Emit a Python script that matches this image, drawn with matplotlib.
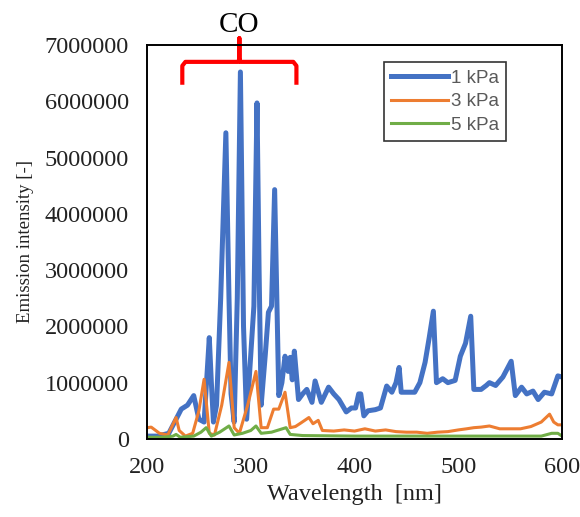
import matplotlib.pyplot as plt

# wavelength [nm] and intensity (x 1e6) for each pressure
wl_1 = [200, 210, 221, 228, 233, 239, 245, 250, 255, 258, 260, 262, 264, 267, 271, 276,
        279, 281, 284, 287, 290, 293, 296, 300, 303, 306, 308, 310, 314, 317, 320, 323,
        327, 330, 333, 336, 338, 340, 342, 346, 350, 354, 359, 362, 368, 375, 380, 385,
        392, 397, 401, 404, 406, 409, 413, 420, 425, 431, 436, 440, 443, 445, 450, 458,
        463, 468, 472, 476, 479, 485, 490, 497, 502, 507, 512, 515, 522, 527, 530, 536,
        543, 551, 555, 561, 566, 572, 577, 583, 590, 596, 600]
int_1 = [0.05, 0.05, 0.1, 0.35, 0.53, 0.6, 0.77, 0.35, 0.3, 1.2, 1.8, 1.0, 0.3, 0.6, 2.5, 5.44,
         2.5, 0.8, 0.3, 2.5, 6.52, 2.0, 0.35, 1.5, 2.36, 5.97, 3.0, 0.6, 1.5, 2.25, 2.36, 4.43,
         0.77, 1.0, 1.47, 1.2, 1.45, 1.05, 1.56, 0.7, 0.8, 0.88, 0.65, 1.03, 0.65, 0.92, 0.8, 0.7,
         0.48, 0.55, 0.55, 0.8, 0.8, 0.41, 0.5, 0.52, 0.55, 0.94, 0.83, 1.0, 1.27, 0.83, 0.83, 0.83,
         1.0, 1.36, 1.8, 2.27, 1.0, 1.07, 1.0, 1.04, 1.47, 1.7, 2.18, 0.88, 0.88, 0.95, 1.0, 0.95,
         1.1, 1.38, 0.77, 0.92, 0.8, 0.85, 0.7, 0.83, 0.8, 1.12, 1.1]

wl_3 = [200, 204, 212, 220, 226, 228, 231, 237, 244, 250, 255, 260, 265, 272, 279, 284,
        289, 297, 305, 310, 316, 322, 327, 333, 338, 343, 348, 356, 360, 365, 369, 380,
        390, 400, 410, 420, 430, 440, 450, 460, 470, 480, 490, 500, 508, 515, 522, 530,
        540, 550, 560, 570, 580, 588, 592, 596, 600]
int_3 = [0.2, 0.21, 0.1, 0.07, 0.3, 0.38, 0.15, 0.05, 0.1, 0.5, 1.06, 0.1, 0.07, 0.6, 1.36, 0.2,
         0.1, 0.6, 1.2, 0.2, 0.2, 0.53, 0.53, 0.83, 0.2, 0.22, 0.28, 0.38, 0.27, 0.33, 0.15, 0.14,
         0.16, 0.14, 0.18, 0.14, 0.16, 0.13, 0.12, 0.12, 0.1, 0.12, 0.13, 0.16, 0.18, 0.2, 0.21, 0.23,
         0.18, 0.18, 0.18, 0.22, 0.3, 0.44, 0.3, 0.25, 0.25]

wl_5 = [200, 215, 225, 228, 232, 245, 252, 257, 262, 270, 279, 284, 292, 300, 305, 310,
        320, 334, 338, 350, 400, 450, 500, 550, 580, 590, 596, 600]
int_5 = [0.03, 0.03, 0.05, 0.08, 0.03, 0.05, 0.12, 0.2, 0.05, 0.12, 0.23, 0.07, 0.1, 0.15, 0.23, 0.1,
         0.12, 0.2, 0.08, 0.06, 0.05, 0.05, 0.05, 0.05, 0.05, 0.1, 0.1, 0.05]

labels = ['1 kPa', '3 kPa', '5 kPa']
colors = ['#4472C4', '#ED7D31', '#70AD47']
widths = [3.6, 2.2, 2.2]
co_range = (234, 344)

plt.rcParams['font.family'] = ['Liberation Serif', 'DejaVu Serif']

fig = plt.figure(figsize=(5.8, 5.17), dpi=100)
ax = fig.add_axes([0.2535, 0.151, 0.7155, 0.762])

series = [(wl_1, int_1), (wl_3, int_3), (wl_5, int_5)]
for (wl, iv), lab, c, w in zip(series, labels, colors, widths):
    ax.plot(wl, [v * 1e6 for v in iv], color=c, lw=w, label=lab)

ax.set_xlim(200, 600)
ax.set_ylim(0, 7000000)
ax.set_xticks([200, 300, 400, 500, 600])
ax.set_yticks(range(0, 7000001, 1000000))
ax.ticklabel_format(axis='y', style='plain', useOffset=False)
ax.tick_params(length=0, labelsize=17.5, pad=13, labelcolor='#222222')
for s in ax.spines.values():
    s.set_linewidth(1.4)
    s.set_color('black')

ax.set_xlabel('Wavelength  [nm]', fontsize=17.5, labelpad=4, color='#222222')
ax.set_ylabel('Emission intensity [-]', fontsize=13.5, labelpad=8, color='#222222')

leg = ax.legend(loc='upper left', bbox_to_anchor=(0.571, 0.957),
                prop={'family': 'Liberation Sans', 'size': 13.5},
                fancybox=False, edgecolor='black', handlelength=3.0, handletextpad=0.16,
                labelspacing=0.35, borderpad=0.4, borderaxespad=0)
leg.get_frame().set_linewidth(1.2)
for t in leg.get_texts():
    t.set_color('#595959')

# red bracket over the CO band
x0, x1 = co_range
xm = (x0 + x1) / 2
bx = [x0, x0, x0 + 3, xm - 1, xm, xm, xm, xm + 1, x1 - 3, x1, x1]
by = [6.33e6, 6.63e6, 6.7e6, 6.7e6, 6.76e6, 7.12e6, 6.76e6, 6.7e6, 6.7e6, 6.63e6, 6.33e6]
ax.plot(bx, by, color='red', lw=3, clip_on=False, solid_joinstyle='round')
ax.text(xm, 7.23e6, 'CO', ha='center', va='baseline', fontsize=21)

fig.savefig('out.png', dpi=100)
